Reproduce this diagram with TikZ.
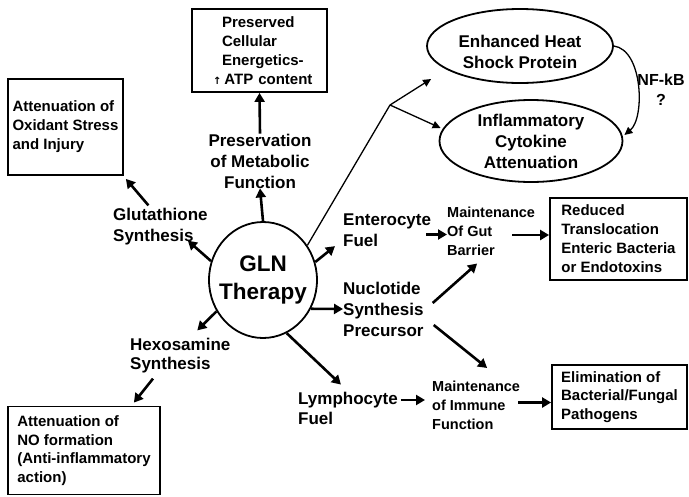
\documentclass[tikz,border=0pt]{standalone}
\usepackage{fontspec}
\setmainfont{Liberation Sans}
\newfontfamily\djv{DejaVu Sans}
\usetikzlibrary{arrows.meta,shapes.geometric,calc}
\begin{document}
\begin{tikzpicture}[x=1pt,y=-1pt,
  lbl/.style={font=\bfseries\fontsize{17}{21}\selectfont, align=left, inner sep=0pt, anchor=west},
  mlbl/.style={font=\bfseries\fontsize{14.5}{19}\selectfont, align=left, inner sep=0pt, anchor=west},
  boxn/.style={draw, line width=1.8pt, font=\bfseries\fontsize{15}{19}\selectfont, align=left, inner sep=3pt},
  ell/.style={draw, ellipse, line width=1.8pt, inner sep=0pt, align=center, font=\bfseries\fontsize{17}{21}\selectfont},
  arr/.style={line width=2.6pt, -{Triangle[length=9pt,width=10pt]}},
  tarr/.style={line width=1.3pt, -{Triangle[length=8pt,width=7.5pt]}}]
\useasboundingbox (0,0) rectangle (689,496);

% boxes
\node[boxn, text width=129pt, minimum height=83pt] (top) at (259.5,50.5)
  {\hspace*{27pt}Preserved\\\hspace*{27pt}Cellular\\\hspace*{27pt}Energetics-\\\hspace*{18pt}{\djv\fontsize{10}{10}\selectfont ↑}\hspace{3pt}ATP content};
\node[boxn, minimum width=115pt, minimum height=96pt] (ox) at (65.5,127)
  {Attenuation of\\Oxidant Stress\\and Injury};
\node[boxn, minimum width=152pt, minimum height=88pt, font=\bfseries\fontsize{15}{18.5}\selectfont] (nobox) at (84,450.5)
  {Attenuation of\\NO formation\\(Anti-inflammatory\\action)};
\node[boxn, minimum width=137pt, minimum height=82pt] (redbox) at (618.5,239)
  {Reduced\\Translocation\\Enteric Bacteria\\or Endotoxins};
\node[boxn, minimum width=135pt, minimum height=64pt, font=\bfseries\fontsize{15}{18.5}\selectfont] (elimbox) at (619.5,397)
  {Elimination of\\Bacterial/Fungal\\Pathogens};

% ellipses
\node[ell, minimum width=108pt, minimum height=116pt, inner xsep=-6pt, font=\bfseries\fontsize{22.5}{28}\selectfont] (gln) at (263,280) {GLN\\Therapy};
\node[ell, minimum width=186pt, minimum height=74pt] (hsp) at (520,46) {\rule{0pt}{24pt}Enhanced Heat\\Shock Protein};
\node[ell, minimum width=183pt, minimum height=82pt, inner ysep=-2pt] (inflam) at (531,141) {Inflammatory\\Cytokine\\Attenuation};

% labels
\node[lbl, anchor=center, align=center] (pres) at (260,161) {Preservation\\of Metabolic\\Function};
\node[lbl] (glut) at (113,227) {Glutathione\\Synthesis};
\node[lbl, font=\bfseries\fontsize{17}{19}\selectfont] (hexo) at (130,356) {Hexosamine\\Synthesis};
\node[lbl] (entero) at (343,230.5) {Enterocyte\\Fuel};
\node[lbl] (nucl) at (343,309) {Nuclotide\\Synthesis\\Precursor};
\node[lbl, font=\bfseries\fontsize{17}{20}\selectfont] (lymph) at (298,408) {Lymphocyte\\Fuel};
\node[mlbl] (gut) at (447,231) {Maintenance\\Of Gut\\Barrier};
\node[mlbl] (immune) at (432,405.5) {Maintenance\\of Immune\\Function};
\node[lbl, anchor=center, align=center, font=\bfseries\fontsize{16}{20}\selectfont] (nfkb) at (661,90) {NF-kB\\?};

% connectors
\draw[arr] (gln.north) -- (pres.south);
\draw[arr] (pres.north) -- (top.south);
\draw[arr] (gln.160) -- ($(glut.south east)+(-20,-5)$);
\draw[arr] ($(glut.north)+(-12,-3)$) -- ($(ox.south east)+(2,3)$);
\draw[arr] (gln.214) -- ($(hexo.north)+(17,-8)$);
\draw[arr] ($(hexo.south west)+(23,5)$) -- ($(nobox.north east)+(-27,-3)$);
\draw[arr] (gln.19) -- ($(entero.south west)+(-8,-1)$);
\draw[arr] (gln.-31) -- (nucl.west);
\draw[arr] (gln.-66) -- ($(lymph.north)+(-7,-7)$);
\draw[arr] ($(entero.east)+(-5,4)$) coordinate (e1) -- (e1 -| gut.west);
\draw[arr] ($(gut.east)+(-23,4)$) coordinate (g1) -- (g1 -| redbox.west);
\draw[arr] ($(nucl.east)+(9,-6)$) -- ($(gut.south)+(-14,8)$);
\draw[arr] ($(nucl.east)+(10,16)$) -- ($(immune.north)+(11,-13)$);
\draw[arr] ($(lymph.east)+(3,-8)$) -- ($(immune.west)+(-7,-5.5)$);
\draw[arr] ($(immune.east)+(-2,-3)$) coordinate (i1) -- (i1 -| elimbox.west);

\coordinate (br) at (390,105);
\draw[line width=1.3pt] (gln.38) -- (br);
\draw[tarr] (br) -- ($(hsp.west)+(5,33)$);
\draw[tarr] (br) -- ($(inflam.west)+(2,-13)$);
\draw[tarr] (hsp.east) .. controls (643,50) and (645,118) .. ($(inflam.east)+(1,-6)$);
\end{tikzpicture}
\end{document}
